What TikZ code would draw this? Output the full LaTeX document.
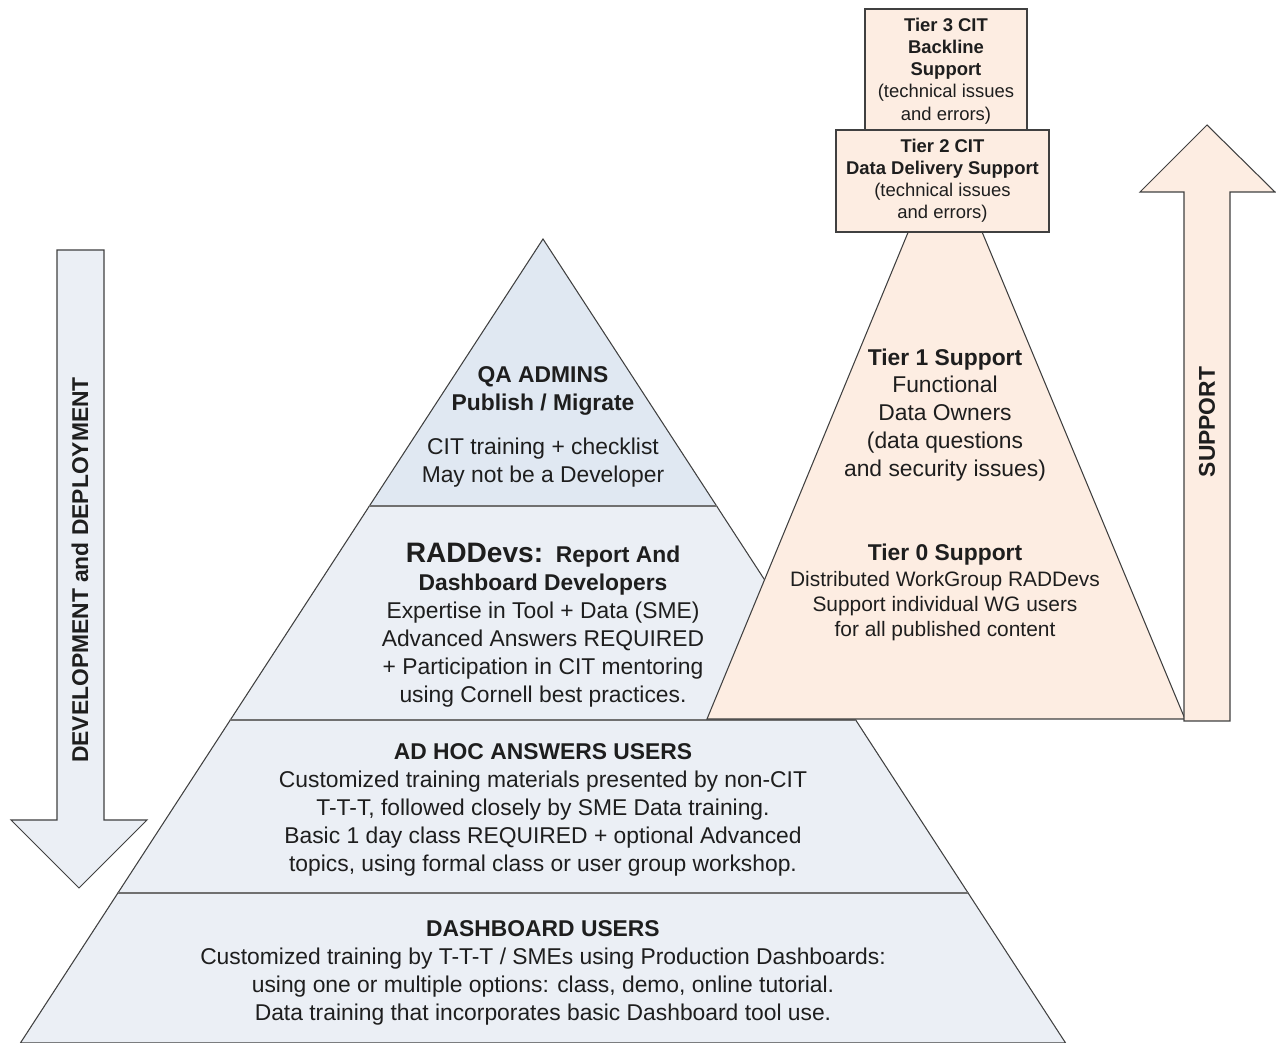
\documentclass[tikz,border=0pt]{standalone}
\usepackage{fontspec}
\setmainfont{Liberation Sans}
\definecolor{pyrblue}{HTML}{EBEFF5}
\definecolor{qablue}{HTML}{E0E8F2}
\definecolor{suppeach}{HTML}{FDEDE2}
\definecolor{edgegray}{HTML}{404040}
\definecolor{divgray}{HTML}{707070}
\definecolor{inkgray}{HTML}{1E1E1E}
\tikzset{
  layer/.style={fill=pyrblue, draw=edgegray, line width=0.6pt},
  divider/.style={draw=divgray, line width=1.5pt},
  peach/.style={fill=suppeach, draw=edgegray, line width=0.6pt},
  txt/.style={align=center, text=inkgray, inner sep=0pt, font=\fontsize{13}{15.9}\selectfont},
  smalltxt/.style={txt, font=\fontsize{11.9}{14.2}\selectfont},
  tierbox/.style={peach, align=center, text=inkgray, inner sep=0pt, font=\fontsize{10.5}{12.6}\selectfont},
  arrowtxt/.style={txt, rotate=90, font=\fontsize{13}{15.9}\selectfont\bfseries}
}
\begin{document}
\begin{tikzpicture}[x=0.02cm, y=-0.02cm]
        \useasboundingbox (0,0) rectangle (1276,1043);
        % Piramide de usuarios
        \filldraw[layer, fill=qablue] (543,239) -- (716.6,506) -- (369.4,506) -- cycle;
        \filldraw[layer] (369.4,506) -- (716.6,506) -- (855.7,720) -- (230.3,720) -- cycle;
        \filldraw[layer] (230.3,720) -- (855.7,720) -- (968.1,893) -- (117.9,893) -- cycle;
        \filldraw[layer] (117.9,893) -- (968.1,893) -- (1065.6,1043) -- (20.4,1043) -- cycle;
        \draw[divider] (369.4,506) -- (716.6,506);
        \draw[divider] (230.3,720) -- (855.7,720);
        \draw[divider] (117.9,893) -- (968.1,893);
        % Triangulo de soporte
        \filldraw[peach] (945,143) -- (1185,719) -- (707,719) -- cycle;
        % Cajas Tier 3 y Tier 2
        \node[tierbox, minimum width=3.24cm, minimum height=2.48cm] (tier3) at (946,71)
          {\textbf{Tier 3 CIT}\\\textbf{Backline}\\\textbf{Support}\\(technical issues\\and errors)};
        \node[tierbox, minimum width=4.26cm, minimum height=2.04cm] (tier2) at (942.5,181)
          {\textbf{Tier 2 CIT}\\\textbf{Data Delivery Support}\\(technical issues\\and errors)};
        % Flechas
        \filldraw[layer] (57,250) -- (104,250) -- (104,820) -- (147,820) -- (79,888) -- (11,820) -- (57,820) -- cycle;
        \filldraw[peach] (1184,721) -- (1230,721) -- (1230,192) -- (1275,192) -- (1207,125) -- (1140,192) -- (1184,192) -- cycle;
        \node[arrowtxt] (devlabel) at (80,570) {DEVELOPMENT and DEPLOYMENT};
        \node[arrowtxt] (suplabel) at (1207,422) {SUPPORT};
        % Textos de la piramide
        \node[txt] (qahead) at (543,391) {\textbf{QA ADMINS}\\\textbf{Publish / Migrate}};
        \node[txt] (qabody) at (543,463) {CIT training + checklist\\May not be a Developer};
        \node[txt] (raddevs) at (543,625) {{\fontsize{16}{15.9}\selectfont\textbf{RADDevs:}}\ \ \textbf{Report And}\\
          \textbf{Dashboard Developers}\\Expertise in Tool + Data (SME)\\Advanced Answers REQUIRED\\
          + Participation in CIT mentoring\\using Cornell best practices.};
        \node[txt] (adhoc) at (543,810) {\textbf{AD HOC ANSWERS USERS}\\
          Customized training materials presented by non-CIT\\T-T-T, followed closely by SME Data training.\\
          Basic 1 day class REQUIRED + optional Advanced\\topics, using formal class or user group workshop.};
        \node[txt] (dash) at (543,973) {\textbf{DASHBOARD USERS}\\
          Customized training by T-T-T / SMEs using Production Dashboards:\\
          using one or multiple options: class, demo, online tutorial.\\
          Data training that incorporates basic Dashboard tool use.};
        % Textos de soporte
        \node[txt] (tier1) at (945,415) {\textbf{Tier 1 Support}\\Functional\\Data Owners\\(data questions\\and security issues)};
        \node[txt] (tier0head) at (945,555) {\textbf{Tier 0 Support}};
        \node[smalltxt] (tier0body) at (945,606) {Distributed WorkGroup RADDevs\\Support individual WG users\\for all published content};
\end{tikzpicture}
\end{document}
